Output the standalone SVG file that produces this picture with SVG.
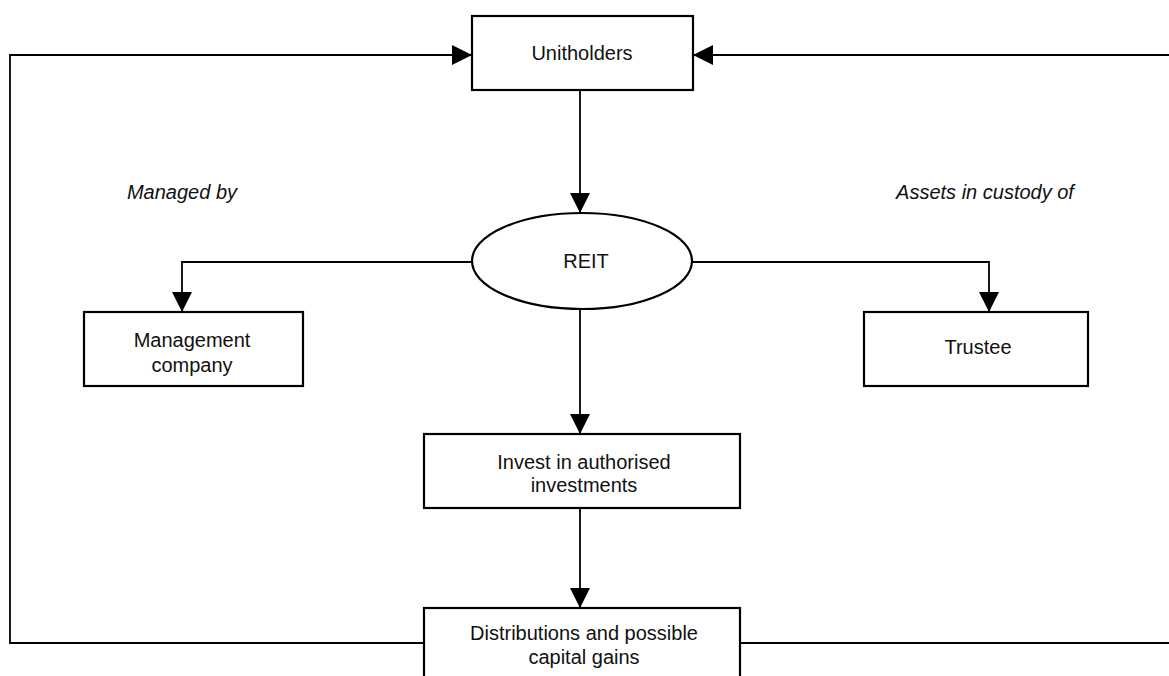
<svg xmlns="http://www.w3.org/2000/svg" width="1169" height="676" viewBox="0 0 1169 676">
<style>
.box{fill:#fff;stroke:#000;stroke-width:2.2}
.ln{fill:none;stroke:#000;stroke-width:1.8}
.t{font-family:"Liberation Sans",Arial,sans-serif;font-size:20px;fill:#111;text-anchor:middle}
.i{font-family:"Liberation Sans",Arial,sans-serif;font-size:20px;font-style:italic;fill:#111;text-anchor:middle}
</style>
<defs>
<marker id="ah" markerUnits="userSpaceOnUse" markerWidth="20" markerHeight="20" viewBox="0 0 20 20" refX="20" refY="10" orient="auto">
<path d="M0,0 L20,10 L0,20 Z" fill="#000"/>
</marker>
</defs>
<rect width="1169" height="676" fill="#fff"/>
<g id="connectors">
<path class="ln" d="M580,90 L580,213" marker-end="url(#ah)"/>
<path class="ln" d="M472,262 L182,262 L182,312" marker-end="url(#ah)"/>
<path class="ln" d="M692,262 L989,262 L989,312" marker-end="url(#ah)"/>
<path class="ln" d="M580,310 L580,434" marker-end="url(#ah)"/>
<path class="ln" d="M580,508 L580,608" marker-end="url(#ah)"/>
<path class="ln" d="M424,643 L10,643 L10,55 L472,55" marker-end="url(#ah)"/>
<path class="ln" d="M740,643 L1180,643 L1180,55 L693,55" marker-end="url(#ah)"/>
</g>
<g id="unitholders">
<rect class="box" x="472" y="16" width="221" height="74"/>
<text class="t" x="582" y="60">Unitholders</text>
</g>
<g id="reit">
<ellipse class="box" cx="582" cy="261" rx="110" ry="48"/>
<text class="t" x="586" y="268">REIT</text>
</g>
<g id="label-managed">
<text class="i" x="182" y="199">Managed by</text>
</g>
<g id="label-assets">
<text class="i" x="985" y="199">Assets in custody of</text>
</g>
<g id="management">
<rect class="box" x="84" y="312" width="219" height="74"/>
<text class="t" x="192" y="347">Management</text>
<text class="t" x="192" y="372">company</text>
</g>
<g id="trustee">
<rect class="box" x="864" y="312" width="224" height="74"/>
<text class="t" x="978" y="354">Trustee</text>
</g>
<g id="invest">
<rect class="box" x="424" y="434" width="316" height="74"/>
<text class="t" x="584" y="469">Invest in authorised</text>
<text class="t" x="584" y="492">investments</text>
</g>
<g id="distributions">
<rect class="box" x="424" y="608" width="316" height="80"/>
<text class="t" x="584" y="640">Distributions and possible</text>
<text class="t" x="584" y="664">capital gains</text>
</g>
</svg>
